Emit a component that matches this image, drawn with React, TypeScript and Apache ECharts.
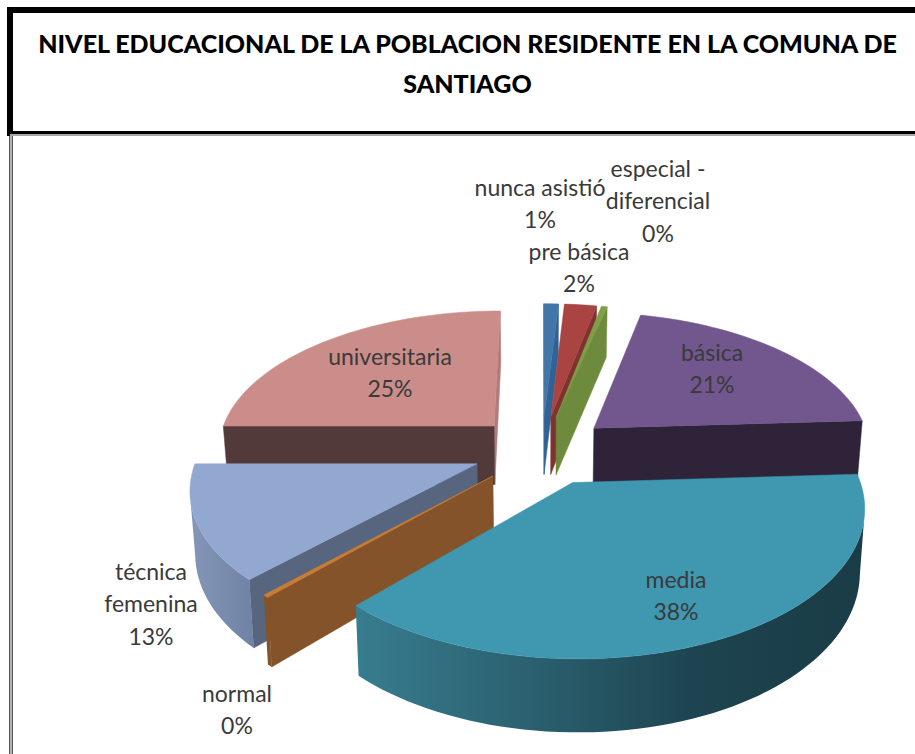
import React, { useEffect, useRef } from "react";
import * as echarts from "echarts";

const TITLE = "NIVEL EDUCACIONAL DE LA POBLACION RESIDENTE EN LA COMUNA DE\nSANTIAGO";
const CATEGORIES = [
  "nunca asistió",
  "pre básica",
  "especial -\ndiferencial",
  "básica",
  "media",
  "normal",
  "técnica\nfemenina",
  "universitaria",
];
const VALUES = [1.0, 2.2, 0.4, 20.5, 37.8, 0.3, 12.8, 25.0];

const TOP_COLORS = ["#4376a8", "#a94442", "#7f9f46", "#72578f", "#3f97b0", "#c97c34", "#92a8d0", "#cb8d8a"];
const START_FACE = ["#2f6396", "#7f3230", "#6e8b3d", "#2e2339", "#2b6474", "#85532a", "#58657f", "#533a3a"];
const END_FACE = ["#2f6396", "#7f3230", "#6e8b3d", "#2e2339", "#2b6474", "#c97c34", "#58657f", "#b27a78"];
const WALL_STOPS: string[][] = [
  ["#2f6396", "#2f6396"],
  ["#7f3230", "#7f3230"],
  ["#6e8b3d", "#6e8b3d"],
  ["#2e2339", "#2e2339"],
  ["#377d8f", "#2b6170", "#1d4450", "#1a3c46"],
  ["#85532a", "#85532a"],
  ["#8497b8", "#6f82a4"],
  ["#a87472", "#a87472"],
];
const LABEL_CENTERS: number[][] = [
  [540, 203],
  [579, 267],
  [658, 200],
  [712, 368],
  [676, 595],
  [237, 709],
  [151, 603],
  [390, 372],
];

// projection of the tilted pie
const CX = 542;
const CY = 450;
const RX = 278;
const RY = 139;
const PERSPECTIVE = 0.15;
const EXPLODE = 0.25;
const DEPTH = 60;
const BOTTOM_SHRINK = 0.985;

const TOTAL = VALUES.reduce((a, b) => a + b, 0);
const ranges = VALUES.map((_, i) => {
  const before = VALUES.slice(0, i).reduce((a, b) => a + b, 0);
  return [(before / TOTAL) * Math.PI * 2, ((before + VALUES[i]) / TOTAL) * Math.PI * 2];
});
const explodeOf = (i: number) => {
  const m = (ranges[i][0] + ranges[i][1]) / 2;
  return [EXPLODE * Math.sin(m), -EXPLODE * Math.cos(m)];
};
const project = (gu: number, gv: number) => {
  const w = 1 / (1 - PERSPECTIVE * gv);
  return { x: CX + RX * gu * w, y: CY + RY * gv * w, w };
};
const down = (p: { x: number; y: number; w: number }) => ({
  x: CX + (p.x - CX) * BOTTOM_SHRINK,
  y: p.y + DEPTH * p.w,
  w: p.w,
});
const DRAW_ORDER = VALUES.map((_, i) => i).sort((a, b) => explodeOf(a)[1] - explodeOf(b)[1]);

const poly = (pts: { x: number; y: number }[], fill: any) => ({
  type: "polygon",
  shape: { points: pts.map((p) => [p.x, p.y]) },
  style: { fill, stroke: typeof fill === "string" ? fill : undefined, lineWidth: typeof fill === "string" ? 0.5 : 0 },
});

function renderSlice(params: any) {
  const i = DRAW_ORDER[params.dataIndex];
  const [a0, a1] = ranges[i];
  const [ou, ov] = explodeOf(i);
  const apex = project(ou, ov);
  const steps = Math.max(2, Math.ceil((a1 - a0) / (Math.PI / 90)));
  const arc: { x: number; y: number; w: number }[] = [];
  for (let s = 0; s <= steps; s++) {
    const t = a0 + ((a1 - a0) * s) / steps;
    arc.push(project(ou + Math.sin(t), ov - Math.cos(t)));
  }
  const children: any[] = [];
  const first = arc[0];
  const last = arc[arc.length - 1];
  if (last.x > apex.x) {
    children.push(poly([last, apex, down(apex), down(last)], END_FACE[i]));
  }
  if (first.x < apex.x) {
    children.push(poly([apex, first, down(first), down(apex)], START_FACE[i]));
  }
  const vis: number[] = [];
  for (let s = 0; s < arc.length - 1; s++) if (arc[s + 1].x < arc[s].x) vis.push(s);
  if (vis.length) {
    const run = arc.slice(vis[0], vis[vis.length - 1] + 2);
    const stops = WALL_STOPS[i];
    const fill = new echarts.graphic.LinearGradient(
      0,
      0,
      1,
      0,
      stops.map((color, k) => ({ offset: k / (stops.length - 1), color }))
    );
    children.push(poly([...run, ...run.slice().reverse().map(down)], fill));
  }
  children.push(poly([apex, ...arc], TOP_COLORS[i]));
  return { type: "group", children };
}

function renderLabel(params: any) {
  const i = params.dataIndex;
  const [x, y] = LABEL_CENTERS[i];
  return {
    type: "text",
    style: {
      text: `${CATEGORIES[i]}\n${Math.round((VALUES[i] / TOTAL) * 100)}%`,
      x,
      y,
      align: "center",
      verticalAlign: "middle",
      fontFamily: "Lato",
      fontSize: 23,
      lineHeight: 32.5,
      fill: "#3a3a3a",
    },
  };
}

export default function App() {
  const ref = useRef<HTMLDivElement>(null);
  useEffect(() => {
    document.body.style.margin = "0";
    document.body.style.overflow = "hidden";
    const chart = echarts.init(ref.current!, undefined, { renderer: "svg" });
    chart.setOption({
      animation: false,
      backgroundColor: "#ffffff",
      title: {
        text: TITLE,
        left: 462.5,
        top: 18,
        textAlign: "center",
        textStyle: { fontFamily: "Lato", fontSize: 25, fontWeight: 900, color: "#000000", lineHeight: 40 },
      },
      graphic: [
        { type: "rect", shape: { x: 7, y: 7, width: 908, height: 6 }, style: { fill: "#000" } },
        { type: "rect", shape: { x: 7, y: 7, width: 6, height: 129 }, style: { fill: "#000" } },
        { type: "rect", shape: { x: 7, y: 131, width: 908, height: 3 }, style: { fill: "#000" } },
        { type: "rect", shape: { x: 10, y: 134, width: 905, height: 2 }, style: { fill: "#a8a8a8" } },
        { type: "rect", shape: { x: 9, y: 136, width: 1, height: 618 }, style: { fill: "#555" } },
        { type: "rect", shape: { x: 10, y: 136, width: 2, height: 618 }, style: { fill: "#b5b5b5" } },
        { type: "rect", shape: { x: 12, y: 136, width: 1, height: 618 }, style: { fill: "#555" } },
      ],
      series: [
        {
          type: "custom",
          coordinateSystem: "none",
          silent: true,
          renderItem: renderSlice,
          data: DRAW_ORDER.map((i) => VALUES[i]),
        },
        {
          type: "custom",
          coordinateSystem: "none",
          silent: true,
          renderItem: renderLabel,
          data: VALUES,
        },
      ],
    });
    return () => chart.dispose();
  }, []);
  return <div ref={ref} style={{ width: 915, height: 754 }} />;
}
